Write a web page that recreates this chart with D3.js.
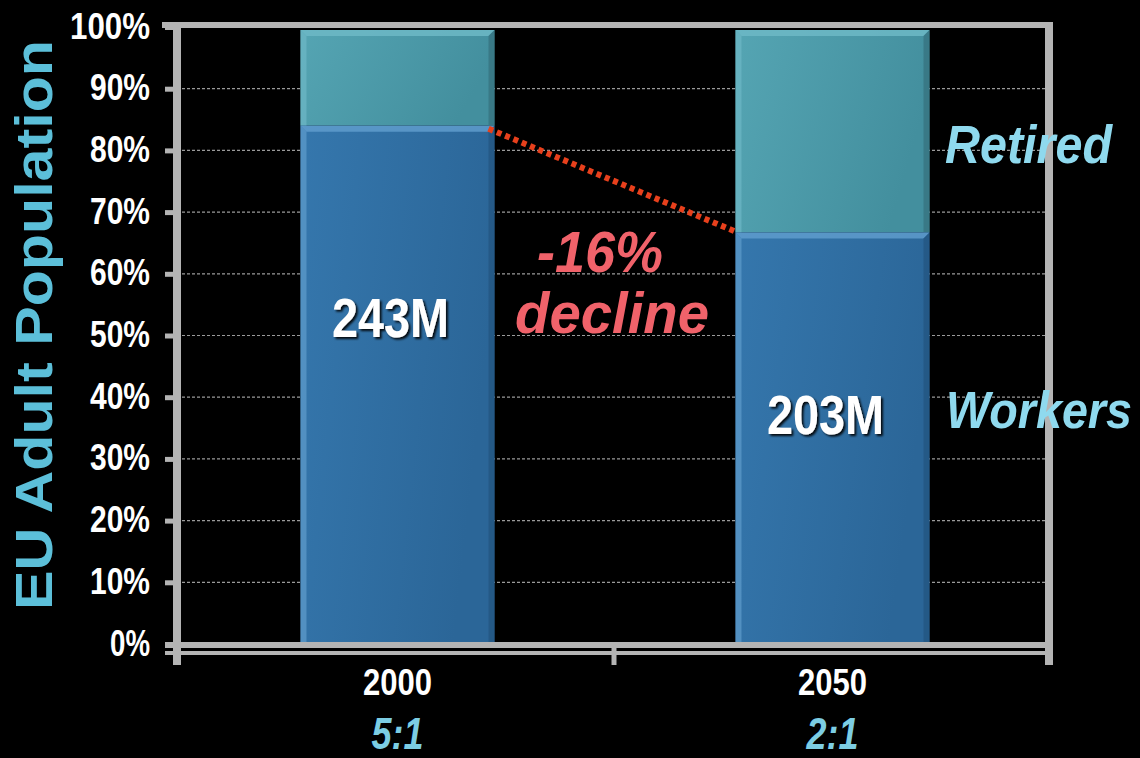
<!DOCTYPE html>
<html><head><meta charset="utf-8">
<script src="https://cdn.jsdelivr.net/npm/d3@7/dist/d3.min.js"></script>
<style>html,body{margin:0;padding:0;background:#000;overflow:hidden}</style>
</head><body>
<svg id="c" width="1140" height="758"></svg>
<script>
const categories = ["2000", "2050"];
const workers = [84, 66.7];
const retired = [16, 33.3];
const workerLabels = ["243M", "203M"];
const ratios = ["5:1", "2:1"];
const yTicks = [0, 10, 20, 30, 40, 50, 60, 70, 80, 90, 100];

const svg = d3.select("#c");
const W = 1140, H = 758;
svg.append("rect").attr("width", W).attr("height", H).attr("fill", "#000");

const AL = 177, AR = 1049, T = 27, B = 644;
const x = d3.scaleBand().domain(categories).range([180, 1050]).paddingInner(0.554).paddingOuter(0.277);
const y = d3.scaleLinear().domain([0, 100]).range([B, T]);
const axisGray = "#b4b4b4";
const sans = "'Liberation Sans',Arial,sans-serif";

function fit(sel, len) {
  return sel.attr("textLength", len).attr("lengthAdjust", "spacingAndGlyphs");
}

const defs = svg.append("defs");
const gW = defs.append("linearGradient").attr("id", "gw").attr("x1", 0).attr("x2", 1).attr("y1", 0).attr("y2", 0.3);
gW.append("stop").attr("offset", 0).attr("stop-color", "#3577ad");
gW.append("stop").attr("offset", 1).attr("stop-color", "#2b6698");
const gR = defs.append("linearGradient").attr("id", "gr").attr("x1", 0).attr("x2", 1).attr("y1", 0).attr("y2", 0.3);
gR.append("stop").attr("offset", 0).attr("stop-color", "#55a5b3");
gR.append("stop").attr("offset", 1).attr("stop-color", "#438f9e");
const sh = defs.append("filter").attr("id", "sh").attr("x", "-20%").attr("y", "-20%").attr("width", "140%").attr("height", "140%");
sh.append("feDropShadow").attr("dx", 2).attr("dy", 2).attr("stdDeviation", 1.2).attr("flood-color", "#000").attr("flood-opacity", 0.9);

// gridlines
svg.append("g").selectAll("line").data(yTicks.filter(d => d > 0)).join("line")
  .attr("x1", AL).attr("x2", AR).attr("y1", d => y(d)).attr("y2", d => y(d))
  .attr("stroke", "#9a9a9a").attr("stroke-width", 1.2).attr("stroke-dasharray", "3,2");

// bars
const stackData = categories.map((c, i) => ({c, w: workers[i], r: retired[i]}));
const bevel = 6;
function drawBar(g, x0, y0, w, h, fill, light, dark) {
  g.append("rect").attr("x", x0).attr("y", y0).attr("width", w).attr("height", h).attr("fill", fill);
  g.append("path").attr("d", `M${x0},${y0}h${w}l${-bevel},${bevel}h${-(w - 2 * bevel)}z`).attr("fill", light).attr("opacity", 0.85);
  g.append("path").attr("d", `M${x0},${y0}l${bevel},${bevel}v${h - bevel}h${-bevel}z`).attr("fill", light).attr("opacity", 0.7);
  g.append("path").attr("d", `M${x0 + w},${y0}l${-bevel},${bevel}v${h - bevel}h${bevel}z`).attr("fill", dark).attr("opacity", 0.7);
}
const bars = svg.append("g");
stackData.forEach(d => {
  const g = bars.append("g");
  const x0 = x(d.c), bw = x.bandwidth();
  drawBar(g, x0, y(100) + 3, bw, y(d.w) - y(100) - 3, "url(#gr)", "#6db8c6", "#356f7c");
  drawBar(g, x0, y(d.w), bw, y(0) - y(d.w), "url(#gw)", "#5f9ccc", "#22547f");
});

// axes frame
const ax = svg.append("g").attr("stroke", axisGray).attr("fill", "none");
ax.append("line").attr("x1", 162).attr("x2", AR + 4).attr("y1", 25).attr("y2", 25).attr("stroke-width", 6);
ax.append("line").attr("x1", AR).attr("x2", AR).attr("y1", 22).attr("y2", 665).attr("stroke-width", 8);
ax.append("line").attr("x1", AL).attr("x2", AL).attr("y1", 22).attr("y2", 665).attr("stroke-width", 8);
ax.append("line").attr("x1", 165).attr("x2", AR + 3).attr("y1", 645).attr("y2", 645).attr("stroke-width", 6);
ax.append("line").attr("x1", 165).attr("x2", AR + 3).attr("y1", 653).attr("y2", 653).attr("stroke-width", 4);

// y axis ticks & labels via d3 axis
const yAxis = svg.append("g").attr("transform", `translate(${AL},0)`)
  .call(d3.axisLeft(y).tickValues(yTicks).tickFormat(d => d + "%").tickSize(12).tickPadding(15));
yAxis.select(".domain").remove();
yAxis.selectAll(".tick line").attr("stroke", axisGray).attr("stroke-width", 5);
yAxis.selectAll(".tick text").attr("fill", "#fff").attr("font-family", sans).attr("font-weight", "bold")
  .attr("font-size", 36).attr("dy", 11)
  .each(function(d) { fit(d3.select(this), d === 100 ? 80 : d === 0 ? 40 : 60); });

// x axis boundary ticks
const bounds = [AL, (AL + AR) / 2 + 1, AR];
svg.append("g").selectAll("line").data(bounds).join("line")
  .attr("x1", d => d).attr("x2", d => d).attr("y1", B).attr("y2", 665)
  .attr("stroke", axisGray).attr("stroke-width", 5);

// x axis category labels via d3 axis
const xAxis = svg.append("g").attr("transform", `translate(0,${B})`)
  .call(d3.axisBottom(x).tickSize(0).tickPadding(0));
xAxis.select(".domain").remove();
xAxis.selectAll(".tick text").attr("fill", "#fff").attr("font-family", sans).attr("font-weight", "bold")
  .attr("font-size", 37).attr("dy", 0).attr("y", 51)
  .each(function() { fit(d3.select(this), 69); });

svg.append("g").selectAll("text").data(categories).join("text")
  .attr("x", d => x(d) + x.bandwidth() / 2).attr("y", 749)
  .attr("text-anchor", "middle").attr("fill", "#7ccde3").attr("font-family", sans)
  .attr("font-weight", "bold").attr("font-style", "italic").attr("font-size", 44)
  .text((d, i) => ratios[i])
  .each(function() { fit(d3.select(this), 52); });

// worker labels
const labelY = [337, 434];
svg.append("g").selectAll("text").data(categories).join("text")
  .attr("x", d => x(d) + x.bandwidth() / 2 - 7).attr("y", (d, i) => labelY[i])
  .attr("text-anchor", "middle").attr("fill", "#fff").attr("font-family", sans)
  .attr("font-weight", "bold").attr("font-size", 55).attr("filter", "url(#sh)")
  .text((d, i) => workerLabels[i])
  .each(function() { fit(d3.select(this), 117); });

// dotted decline line
const x1 = x(categories[0]) + x.bandwidth() - 6, y1 = y(workers[0]) + 3;
const x2 = x(categories[1]) + 2, y2 = y(workers[1]);
svg.append("line").attr("x1", x1).attr("y1", y1).attr("x2", x2).attr("y2", y2)
  .attr("stroke", "#e8401c").attr("stroke-width", 6).attr("stroke-dasharray", "5,4");

// decline text
fit(svg.append("text").attr("x", 600).attr("y", 272).attr("text-anchor", "middle")
  .attr("fill", "#f0626a").attr("font-family", sans).attr("font-weight", "bold").attr("font-style", "italic")
  .attr("font-size", 58).text("-16%"), 126);
fit(svg.append("text").attr("x", 612).attr("y", 333).attr("text-anchor", "middle")
  .attr("fill", "#f0626a").attr("font-family", sans).attr("font-weight", "bold").attr("font-style", "italic")
  .attr("font-size", 58).text("decline"), 194);

// series labels
fit(svg.append("text").attr("x", 945).attr("y", 163).attr("fill", "#8fd9ee").attr("font-family", sans)
  .attr("font-weight", "bold").attr("font-style", "italic").attr("font-size", 54).text("Retired"), 167);
fit(svg.append("text").attr("x", 946).attr("y", 428).attr("fill", "#8fd9ee").attr("font-family", sans)
  .attr("font-weight", "bold").attr("font-style", "italic").attr("font-size", 52).text("Workers"), 186);

// y title
fit(svg.append("text").attr("transform", "translate(52,325) rotate(-90)").attr("text-anchor", "middle")
  .attr("fill", "#5cbfd9").attr("font-family", sans).attr("font-weight", "bold").attr("font-size", 51)
  .text("EU Adult Population"), 570);
</script>
</body></html>
